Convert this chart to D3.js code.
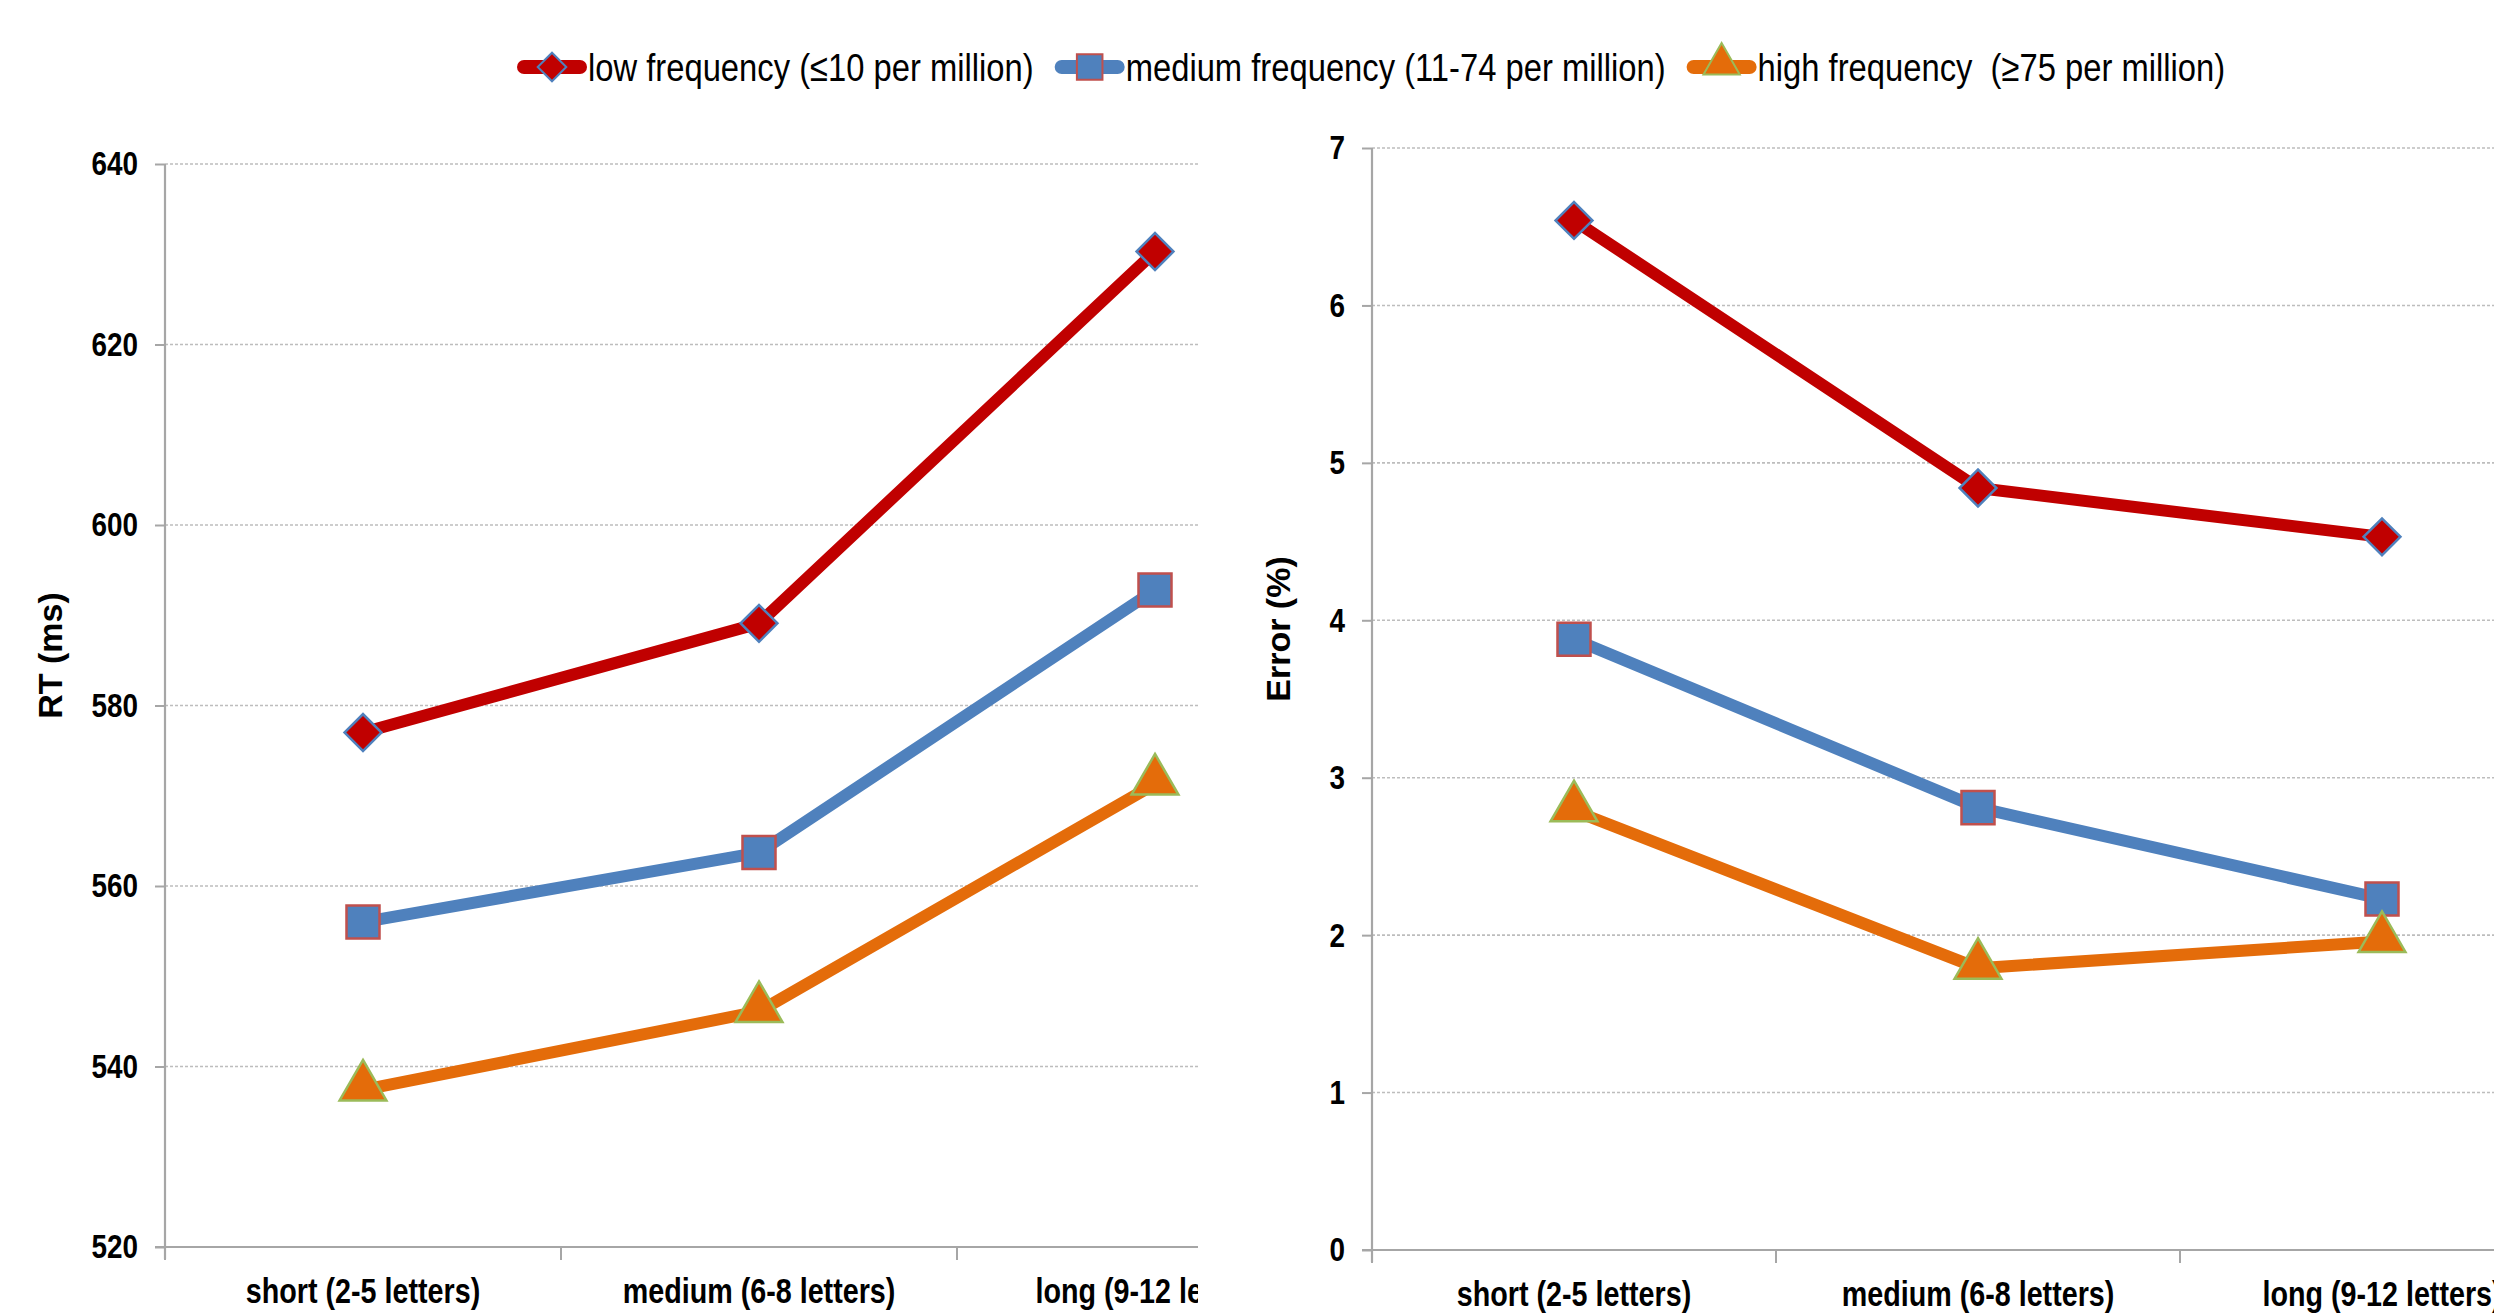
<!DOCTYPE html>
<html>
<head>
<meta charset="utf-8">
<script src="https://cdn.jsdelivr.net/npm/d3@7"></script>
<style>
  html, body { margin: 0; padding: 0; background: #fff; }
  svg { display: block; }
  text { font-family: "Liberation Sans", Arial, sans-serif; }
</style>
</head>
<body>
<script>
// ---------- data ----------
const categories = ["short (2-5 letters)", "medium (6-8 letters)", "long (9-12 letters)"];
const seriesNames = ["low frequency (\u226410 per million)", "medium frequency (11-74 per million)", "high frequency  (\u226575 per million)"];
const rtLow  = [577.0, 589.1, 630.3];
const rtMed  = [556.0, 563.7, 592.8];
const rtHigh = [537.4, 546.1, 571.3];
const errLow  = [6.54, 4.84, 4.53];
const errMed  = [3.88, 2.81, 2.23];
const errHigh = [2.79, 1.79, 1.96];
const rtTicks  = [520, 540, 560, 580, 600, 620, 640];
const errTicks = [0, 1, 2, 3, 4, 5, 6, 7];
const rtTitle = "RT (ms)";
const errTitle = "Error (%)";

// ---------- styles ----------
const lineColors   = ["#C00000", "#4F81BD", "#E46C0A"];
const markerFill   = ["#C00000", "#4F81BD", "#E46C0A"];
const markerStroke = ["#4F81BD", "#C0504D", "#9BBB59"];
const NARROW = 0.82;

const W = 2494, H = 1313;
const svg = d3.select("body").append("svg").attr("width", W).attr("height", H);

// marker shapes: diamond = square rotated 45deg
function markerPath(si, k) {
  if (si === 0) return d3.symbol().type(d3.symbolSquare).size(680 * k)();
  if (si === 1) return d3.symbol().type(d3.symbolSquare).size(1090 * k)();
  return d3.symbol().type(d3.symbolTriangle).size(950 * k)();
}
function markerRot(si) { return si === 0 ? " rotate(45)" : ""; }

// emulate a condensed face with a horizontal scale
function narrowize(sel, s) {
  sel.each(function () {
    const t = d3.select(this);
    const x = +t.attr("x") || 0;
    t.attr("x", 0).attr("transform", `translate(${x},0) scale(${s},1)`);
  });
}

function drawChart(opts) {
  const g = svg.append("g");
  if (opts.clipRight) {
    const id = "clip" + opts.key;
    svg.append("clipPath").attr("id", id).append("rect")
      .attr("x", 0).attr("y", 0).attr("width", opts.clipRight).attr("height", H);
    g.attr("clip-path", `url(#${id})`);
  }
  const x = d3.scaleBand().domain(categories).range(opts.xRange).padding(0);
  const y = d3.scaleLinear().domain(opts.yDomain).range(opts.yRange);
  const right = opts.clipRight ? Math.min(opts.clipRight, opts.xRange[1]) : opts.xRange[1];

  // gridlines
  g.append("g").selectAll("line").data(opts.ticks.slice(1)).join("line")
    .attr("x1", opts.xRange[0]).attr("x2", right)
    .attr("y1", d => y(d)).attr("y2", d => y(d))
    .attr("stroke", "#BDBDBD").attr("stroke-width", 1.6).attr("stroke-dasharray", "3,2");

  // y axis
  const ya = g.append("g").attr("transform", `translate(${opts.xRange[0]},0)`)
    .call(d3.axisLeft(y).tickValues(opts.ticks).tickSize(10).tickPadding(17).tickFormat(d3.format("d")));
  ya.select(".domain").attr("stroke", "#A6A6A6").attr("stroke-width", 2.2)
    .attr("d", `M0,${opts.yRange[1]}V${opts.yRange[0] + 12}`);
  ya.selectAll(".tick line").attr("stroke", "#A6A6A6").attr("stroke-width", 2);
  ya.selectAll(".tick text").attr("font-size", 34).attr("font-weight", "bold").attr("fill", "#000")
    .call(narrowize, NARROW);

  // x axis
  const xa = g.append("g").attr("transform", `translate(0,${opts.yRange[0]})`)
    .call(d3.axisBottom(x).tickSize(0).tickPadding(31));
  xa.select(".domain").attr("stroke", "#A6A6A6").attr("stroke-width", 2.2)
    .attr("d", `M${opts.xRange[0] - 10},0H${opts.xRange[1]}`);
  xa.selectAll(".tick text").attr("font-size", 35).attr("font-weight", "bold").attr("fill", "#000")
    .call(narrowize, NARROW);
  // band boundary ticks
  xa.append("g").selectAll("line").data(categories).join("line")
    .attr("x1", d => x(d)).attr("x2", d => x(d)).attr("y1", 0).attr("y2", 13)
    .attr("stroke", "#A6A6A6").attr("stroke-width", 2);

  // y title
  g.append("text")
    .attr("transform", `translate(${opts.titleX},${(opts.yRange[0] + opts.yRange[1]) / 2 + opts.titleDy}) rotate(-90)`)
    .attr("text-anchor", "middle").attr("font-size", 34).attr("font-weight", "bold").attr("fill", "#000")
    .text(opts.title);

  // series
  const line = d3.line().x((d, i) => x(categories[i]) + x.bandwidth() / 2).y(d => y(d));
  opts.series.forEach((vals, si) => {
    g.append("path").datum(vals).attr("d", line).attr("fill", "none")
      .attr("stroke", lineColors[si]).attr("stroke-width", 12).attr("stroke-linejoin", "round");
  });
  opts.series.forEach((vals, si) => {
    g.append("g").selectAll("path").data(vals).join("path")
      .attr("transform", (d, i) => `translate(${x(categories[i]) + x.bandwidth() / 2},${y(d) + (si === 2 ? -3 : 0)})${markerRot(si)}`)
      .attr("d", markerPath(si, 1))
      .attr("fill", markerFill[si]).attr("stroke", markerStroke[si]).attr("stroke-width", 2.5);
  });
}

drawChart({ key: "rt", xRange: [165, 1353], yRange: [1247, 164], yDomain: [520, 640], ticks: rtTicks,
  series: [rtLow, rtMed, rtHigh], title: rtTitle, titleX: 62, titleDy: -50, clipRight: 1198 });
drawChart({ key: "err", xRange: [1372, 2584], yRange: [1250, 148], yDomain: [0, 7], ticks: errTicks,
  series: [errLow, errMed, errHigh], title: errTitle, titleX: 1290, titleDy: -70 });

// ---------- legend ----------
const leg = svg.append("g");
let lx = 518;
const ly = 67;
const LEG_SCALE = 0.84;
seriesNames.forEach((name, si) => {
  leg.append("line").attr("x1", lx + 6).attr("x2", lx + 62).attr("y1", ly).attr("y2", ly)
    .attr("stroke", lineColors[si]).attr("stroke-width", 14).attr("stroke-linecap", "round");
  leg.append("path").attr("transform", `translate(${lx + 34},${ly + (si === 2 ? -3 : 0)})${markerRot(si)}`)
    .attr("d", markerPath(si, 0.6))
    .attr("fill", markerFill[si]).attr("stroke", markerStroke[si]).attr("stroke-width", 2);
  const t = leg.append("text").attr("x", lx + 70).attr("y", ly + 14)
    .attr("font-size", 39).attr("fill", "#000").style("white-space", "pre").text(name)
    .call(narrowize, LEG_SCALE);
  lx = lx + 70 + t.node().getComputedTextLength() * LEG_SCALE + 22;
});
</script>
</body>
</html>
